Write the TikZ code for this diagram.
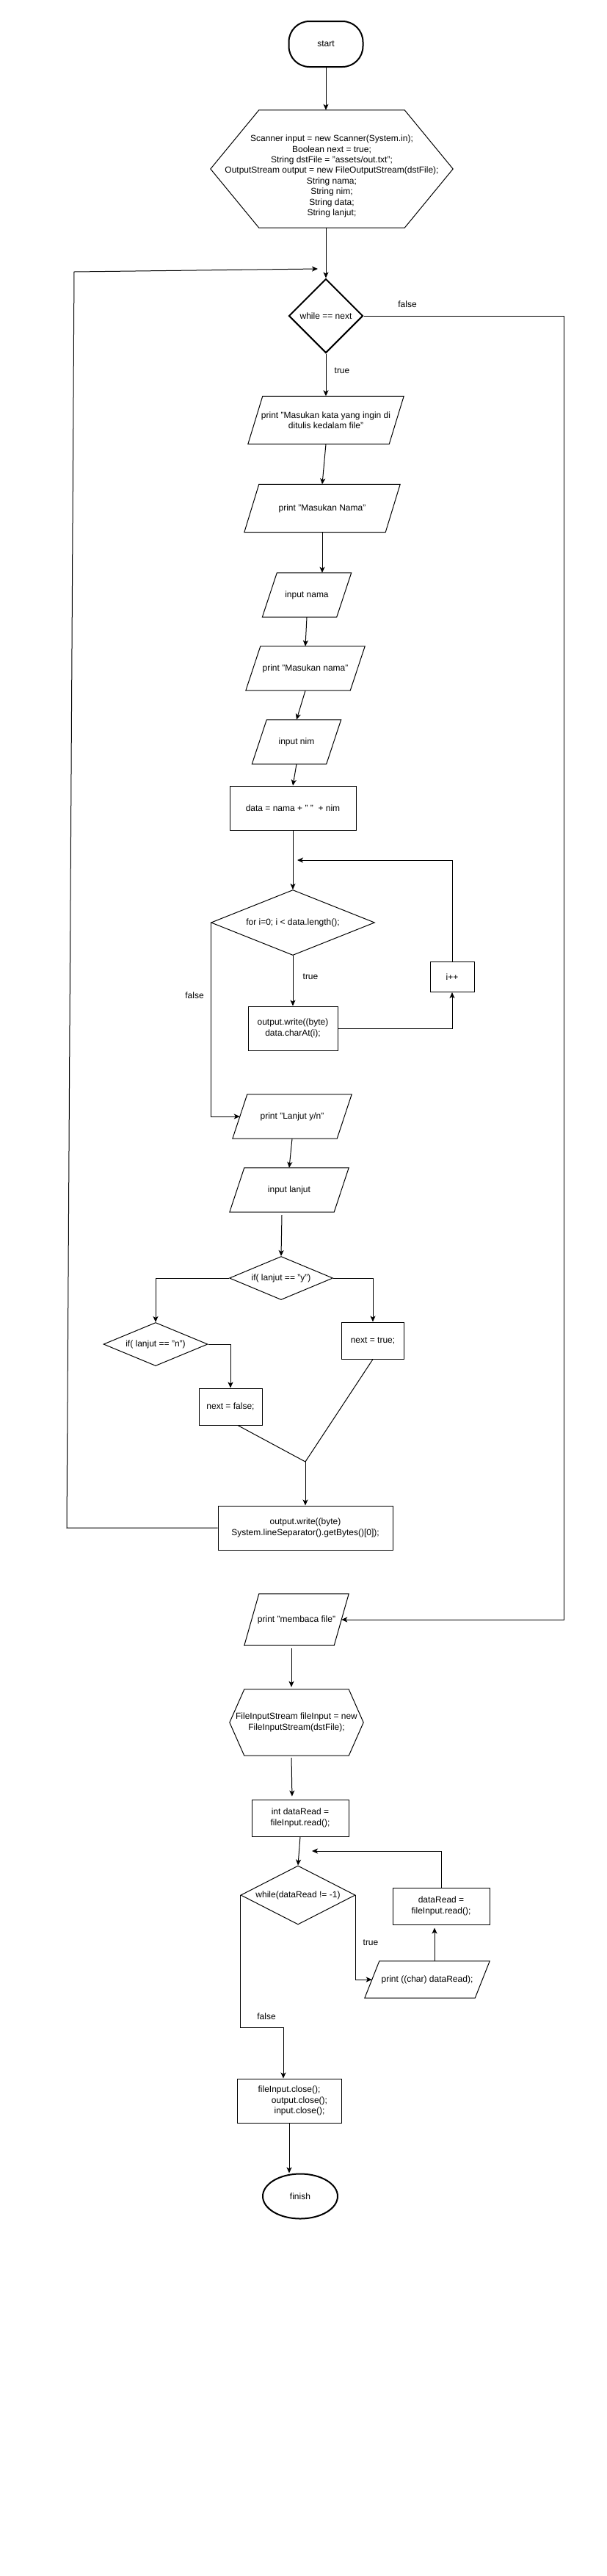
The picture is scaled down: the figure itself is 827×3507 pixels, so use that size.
\documentclass[tikz,border=0pt]{standalone}
\usepackage{fontspec}
\setmainfont{Liberation Sans}
\usetikzlibrary{shapes.geometric,arrows.meta}

\begin{document}
\begin{tikzpicture}[x=1pt,y=-1pt,
  font=\fontsize{12}{14.4}\selectfont,
  every node/.style={inner sep=0pt,align=center},
  term/.style={draw,line width=2pt,rectangle,rounded corners=28pt},
  proc/.style={draw,line width=1pt,rectangle},
  iobox/.style={rectangle},
  prep/.style={rectangle},
  decision/.style={draw,line width=1pt,diamond},
  arrow/.style={line width=1pt,-{Stealth[length=8pt,width=7pt,inset=2pt]}},
  line/.style={line width=1pt}]
\useasboundingbox (0,0) rectangle (827,3507);

\node[term,minimum width=101pt,minimum height=62pt] (start) at (444,60) {start};
\node[prep,minimum width=330pt,minimum height=160pt] (init) at (452,230) {\mbox{}\\\mbox{}\\Scanner input = new Scanner(System.in);\\Boolean next = true;\\String dstFile = "assets/out.txt";\\OutputStream output = new FileOutputStream(dstFile);\\String nama;\\String nim;\\String data;\\String lanjut;};
\node[decision,line width=2pt,minimum width=101pt,minimum height=101pt] (whl) at (444,430) {while == next};
\node[iobox,minimum width=212pt,minimum height=65pt] (kata) at (444,572) {print "Masukan kata yang ingin di\\ditulis kedalam file"};
\node[iobox,minimum width=212pt,minimum height=65pt] (pnama) at (439,692) {print "Masukan Nama"};
\node[iobox,minimum width=121pt,minimum height=60pt] (inama) at (418,810) {input nama};
\node[iobox,minimum width=162pt,minimum height=60pt] (pnim) at (416,910) {print "Masukan nama"};
\node[iobox,minimum width=121pt,minimum height=60pt] (inim) at (404,1010) {input nim};
\node[proc,minimum width=172pt,minimum height=60pt] (data) at (399,1100) {data = nama + "\ "\ \ + nim};
\node[decision,aspect=2.5,minimum width=223pt,minimum height=89pt] (forl) at (399,1256) {for i=0; i < data.length();};
\node[proc,minimum width=122pt,minimum height=60pt] (wrc) at (399,1400) {output.write((byte)\\data.charAt(i);};
\node[proc,minimum width=60pt,minimum height=41pt] (inc) at (616,1330) {i++};
\node[iobox,minimum width=162pt,minimum height=60pt] (lnj) at (398,1520) {print "Lanjut y/n"};
\node[iobox,minimum width=162pt,minimum height=60pt] (inl) at (394,1620) {input lanjut};
\node[decision,aspect=2.4,minimum width=141pt,minimum height=59pt] (ify) at (383,1740) {if( lanjut == "y")};
\node[decision,aspect=2.4,minimum width=142pt,minimum height=59pt] (ifn) at (212,1830) {if( lanjut == "n")};
\node[proc,minimum width=85pt,minimum height=50pt] (nxt) at (508,1825) {next = true;};
\node[proc,minimum width=86pt,minimum height=50pt] (nxf) at (314,1915) {next = false;};
\coordinate (join) at (416,1990);
\node[proc,minimum width=238pt,minimum height=60pt] (outw) at (416,2080) {output.write((byte)\\System.lineSeparator().getBytes()[0]);};
\node[iobox,minimum width=142pt,minimum height=70pt] (mbc) at (404,2205) {print "membaca file"};
\node[prep,minimum width=182pt,minimum height=90pt] (fis) at (404,2345) {FileInputStream fileInput = new\\FileInputStream(dstFile);};
\node[proc,minimum width=132pt,minimum height=50pt] (rd) at (409,2475) {int dataRead =\\fileInput.read();};
\node[decision,aspect=2,minimum width=156pt,minimum height=80pt] (wdr) at (406,2580) {while(dataRead != -1)};
\node[proc,minimum width=132pt,minimum height=50pt] (rd2) at (601,2595) {dataRead =\\fileInput.read();};
\node[iobox,minimum width=170pt,minimum height=50pt] (pch) at (582,2695) {print ((char) dataRead);};
\node[proc,minimum width=142pt,minimum height=60pt] (cls) at (394,2860) {fileInput.close();\\\hspace*{28pt}output.close();\\\hspace*{28pt}input.close();};
\node[draw,ellipse,line width=2pt,minimum width=102pt,minimum height=61pt] (fin) at (409,2990) {finish};

\foreach \n in {kata,pnama,inama,pnim,inim,lnj,inl,mbc,pch}
  \draw[line] ([xshift=20pt]\n.north west) -- (\n.north east) -- ([xshift=-20pt]\n.south east) -- (\n.south west) -- cycle;
\draw[line] ([xshift=66pt]init.north west) -- ([xshift=-66pt]init.north east) -- (init.east) -- ([xshift=-66pt]init.south east) -- ([xshift=66pt]init.south west) -- (init.west) -- cycle;
\draw[line] ([xshift=20pt]fis.north west) -- ([xshift=-20pt]fis.north east) -- (fis.east) -- ([xshift=-20pt]fis.south east) -- ([xshift=20pt]fis.south west) -- (fis.west) -- cycle;

\node (f1) at (555,414) {false};
\node (t1) at (466,505) {true};
\node (t2) at (423,1330) {true};
\node (f2) at (265,1355) {false};
\node (t3) at (505,2645) {true};
\node (f3) at (363,2745) {false};

\coordinate (back) at (433,366);
\coordinate (forin) at (405,1171);
\coordinate (wdrin) at (425,2520);
\coordinate (fk) at (386,2760);

\draw[arrow] (start.south) -- (start.south |- init.north);
\draw[arrow] (init.south -| whl.north) -- (whl.north);
\draw[arrow] (whl.south) -- (kata.north);
\draw[arrow] (whl.east) -- ++(273,0) |- ([xshift=-10pt]mbc.east);
\draw[arrow] (kata.south) -- (pnama.north);
\draw[arrow] (pnama.south) -- (pnama.south |- inama.north);
\draw[arrow] (inama.south) -- (pnim.north);
\draw[arrow] (pnim.south) -- (inim.north);
\draw[arrow] (inim.south) -- (data.north);
\draw[arrow] (data.south) -- (forl.north);
\draw[arrow] (forl.south) -- (wrc.north);
\draw[arrow] (wrc.east) -| (inc.south);
\draw[arrow] (inc.north) |- (forin);
\draw[arrow] (forl.west) |- ([xshift=10pt]lnj.west);
\draw[arrow] (lnj.south) -- (inl.north);
\draw[arrow] ([xshift=-10pt,yshift=-4pt]inl.south) -- (ify.north);
\draw[arrow] (ify.west) -| (ifn.north);
\draw[arrow] (ify.east) -| (nxt.north);
\draw[arrow] (ifn.east) -| (nxf.north);
\draw[line] ([xshift=10pt]nxf.south) -- (join);
\draw[line] (nxt.south) -- (join);
\draw[arrow] (join) -- (outw.north);
\draw[arrow] (outw.west) -- (91,2080) -- (101,370) -- (back);
\draw[arrow,shorten <=4pt,shorten >=3pt] ([xshift=-7pt]mbc.south) -- ([xshift=-7pt]fis.north);
\draw[arrow,shorten <=3pt,shorten >=4pt] ([xshift=-7pt]fis.south) -- ([xshift=-11pt]rd.north);
\draw[arrow] (rd.south) -- (wdr.north);
\draw[arrow] (wdr.east) |- ([xshift=10pt]pch.west);
\draw[arrow,shorten >=4pt] ([xshift=10pt]pch.north) -- ([xshift=10pt]pch.north |- rd2.south);
\draw[arrow] (rd2.north) |- (wdrin);
\draw[arrow] (wdr.west) |- (fk) -- (fk |- cls.north);
\draw[arrow] (cls.south) -- (cls.south |- fin.north);
\end{tikzpicture}
\end{document}
